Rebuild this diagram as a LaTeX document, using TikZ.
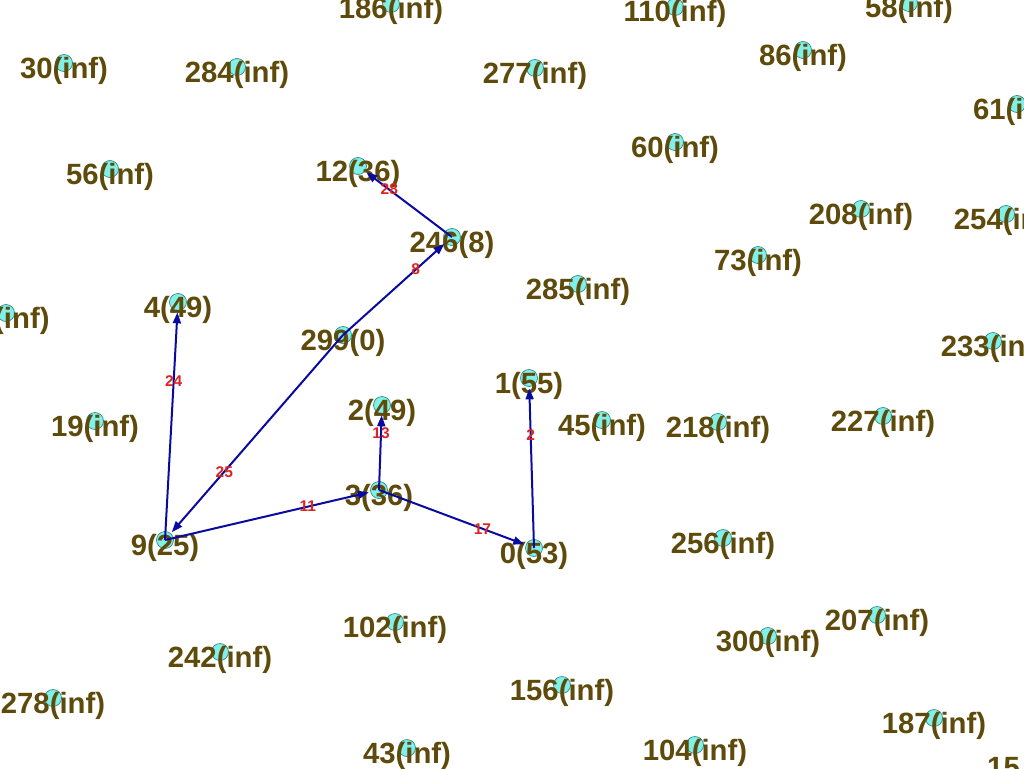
\documentclass[tikz,border=0pt]{standalone}
\usepackage{fontspec}
\setmainfont{Liberation Sans}
\usetikzlibrary{arrows.meta}
\definecolor{txt}{RGB}{94,74,10}
\definecolor{nfill}{RGB}{128,240,232}
\definecolor{ndraw}{RGB}{50,140,130}
\definecolor{edg}{RGB}{10,10,160}
\definecolor{elc}{RGB}{220,34,34}
\begin{document}
\begin{tikzpicture}[x=1pt,y=-1pt,
 vtx/.style={circle,fill=nfill,draw=ndraw,line width=0.7pt,minimum size=17pt,inner sep=0pt},
 vlab/.style={inner sep=0pt,text=txt,font=\fontsize{29.3}{31}\selectfont\bfseries},
 edge/.style={draw=edg,line width=2pt,-{Triangle[length=11pt,width=8pt]},shorten >=1.5pt},
 elab/.style={text=elc,font=\fontsize{15.5}{16}\selectfont\bfseries,inner sep=0pt}]
\useasboundingbox (0,0) rectangle (1024,768);
\clip (0,0) rectangle (1024,768);
\newcommand\mynode[4]{\node[vtx] (#1) at (#2,#3) {}; \node[vlab,anchor=base] (#1l) at (#2,#3+15) {#4};}
\mynode{n186}{391}{4}{186(inf)}
\mynode{n110}{675}{7}{110(inf)}
\mynode{n58}{909}{3}{58(inf)}
\mynode{n30}{64}{63}{30(inf)}
\mynode{n284}{237}{67}{284(inf)}
\mynode{n277}{535}{68}{277(inf)}
\mynode{n86}{803}{50}{86(inf)}
\mynode{n61}{1017}{104}{61(inf)}
\mynode{n60}{675}{142}{60(inf)}
\mynode{n56}{110}{169}{56(inf)}
\mynode{n12}{358}{166}{12(36)}
\mynode{n208}{861}{209}{208(inf)}
\mynode{n254}{1006}{214}{254(inf)}
\mynode{n246}{452}{237}{246(8)}
\mynode{n73}{758}{255}{73(inf)}
\mynode{n285}{578}{284}{285(inf)}
\mynode{n4}{178}{302}{4(49)}
\node[vtx] (nleft) at (6,313) {};
\node[vlab,anchor=base west] (nleftl) at (-6,328) {(inf)};
\mynode{n299}{343}{335}{299(0)}
\mynode{n233}{993}{341}{233(inf)}
\mynode{n1}{529}{378}{1(55)}
\mynode{n2}{382}{405}{2(49)}
\mynode{n19}{95}{421}{19(inf)}
\mynode{n45}{602}{420}{45(inf)}
\mynode{n218}{718}{422}{218(inf)}
\mynode{n227}{883}{416}{227(inf)}
\mynode{n3}{379}{490}{3(36)}
\mynode{n9}{165}{540}{9(25)}
\mynode{n0}{534}{548}{0(53)}
\mynode{n256}{723}{538}{256(inf)}
\mynode{n102}{395}{622}{102(inf)}
\mynode{n207}{877}{615}{207(inf)}
\mynode{n300}{768}{636}{300(inf)}
\mynode{n242}{220}{652}{242(inf)}
\mynode{n278}{53}{698}{278(inf)}
\mynode{n156}{562}{685}{156(inf)}
\mynode{n187}{934}{718}{187(inf)}
\mynode{n43}{407}{748}{43(inf)}
\mynode{n104}{695}{745}{104(inf)}
\node[vlab,anchor=base west] (n15l) at (987,777) {15};
% edges
\draw[edge] (n246.center) -- (n12);
\draw[edge] (n299.center) -- (n246);
\draw[edge] (n299.center) -- (n9);
\draw[edge] (n9.center) -- (n4);
\draw[edge] (n9.center) -- (n3);
\draw[edge] (n3.center) -- (n2);
\draw[edge] (n3.center) -- (n0);
\draw[edge] (n0.center) -- (n1);
% edge labels
\path (n246.center) -- node[elab,pos=0.667] {28} (n12.center);
\path (n299.center) -- node[elab,pos=0.667] {8} (n246.center);
\path (n299.center) -- node[elab,pos=0.667] {25} (n9.center);
\path (n9.center) -- node[elab,pos=0.667] {24} (n4.center);
\path (n9.center) -- node[elab,pos=0.667] {11} (n3.center);
\path (n3.center) -- node[elab,pos=0.667] {13} (n2.center);
\path (n3.center) -- node[elab,pos=0.667] {17} (n0.center);
\path (n0.center) -- node[elab,pos=0.667] {2} (n1.center);
\end{tikzpicture}
\end{document}
